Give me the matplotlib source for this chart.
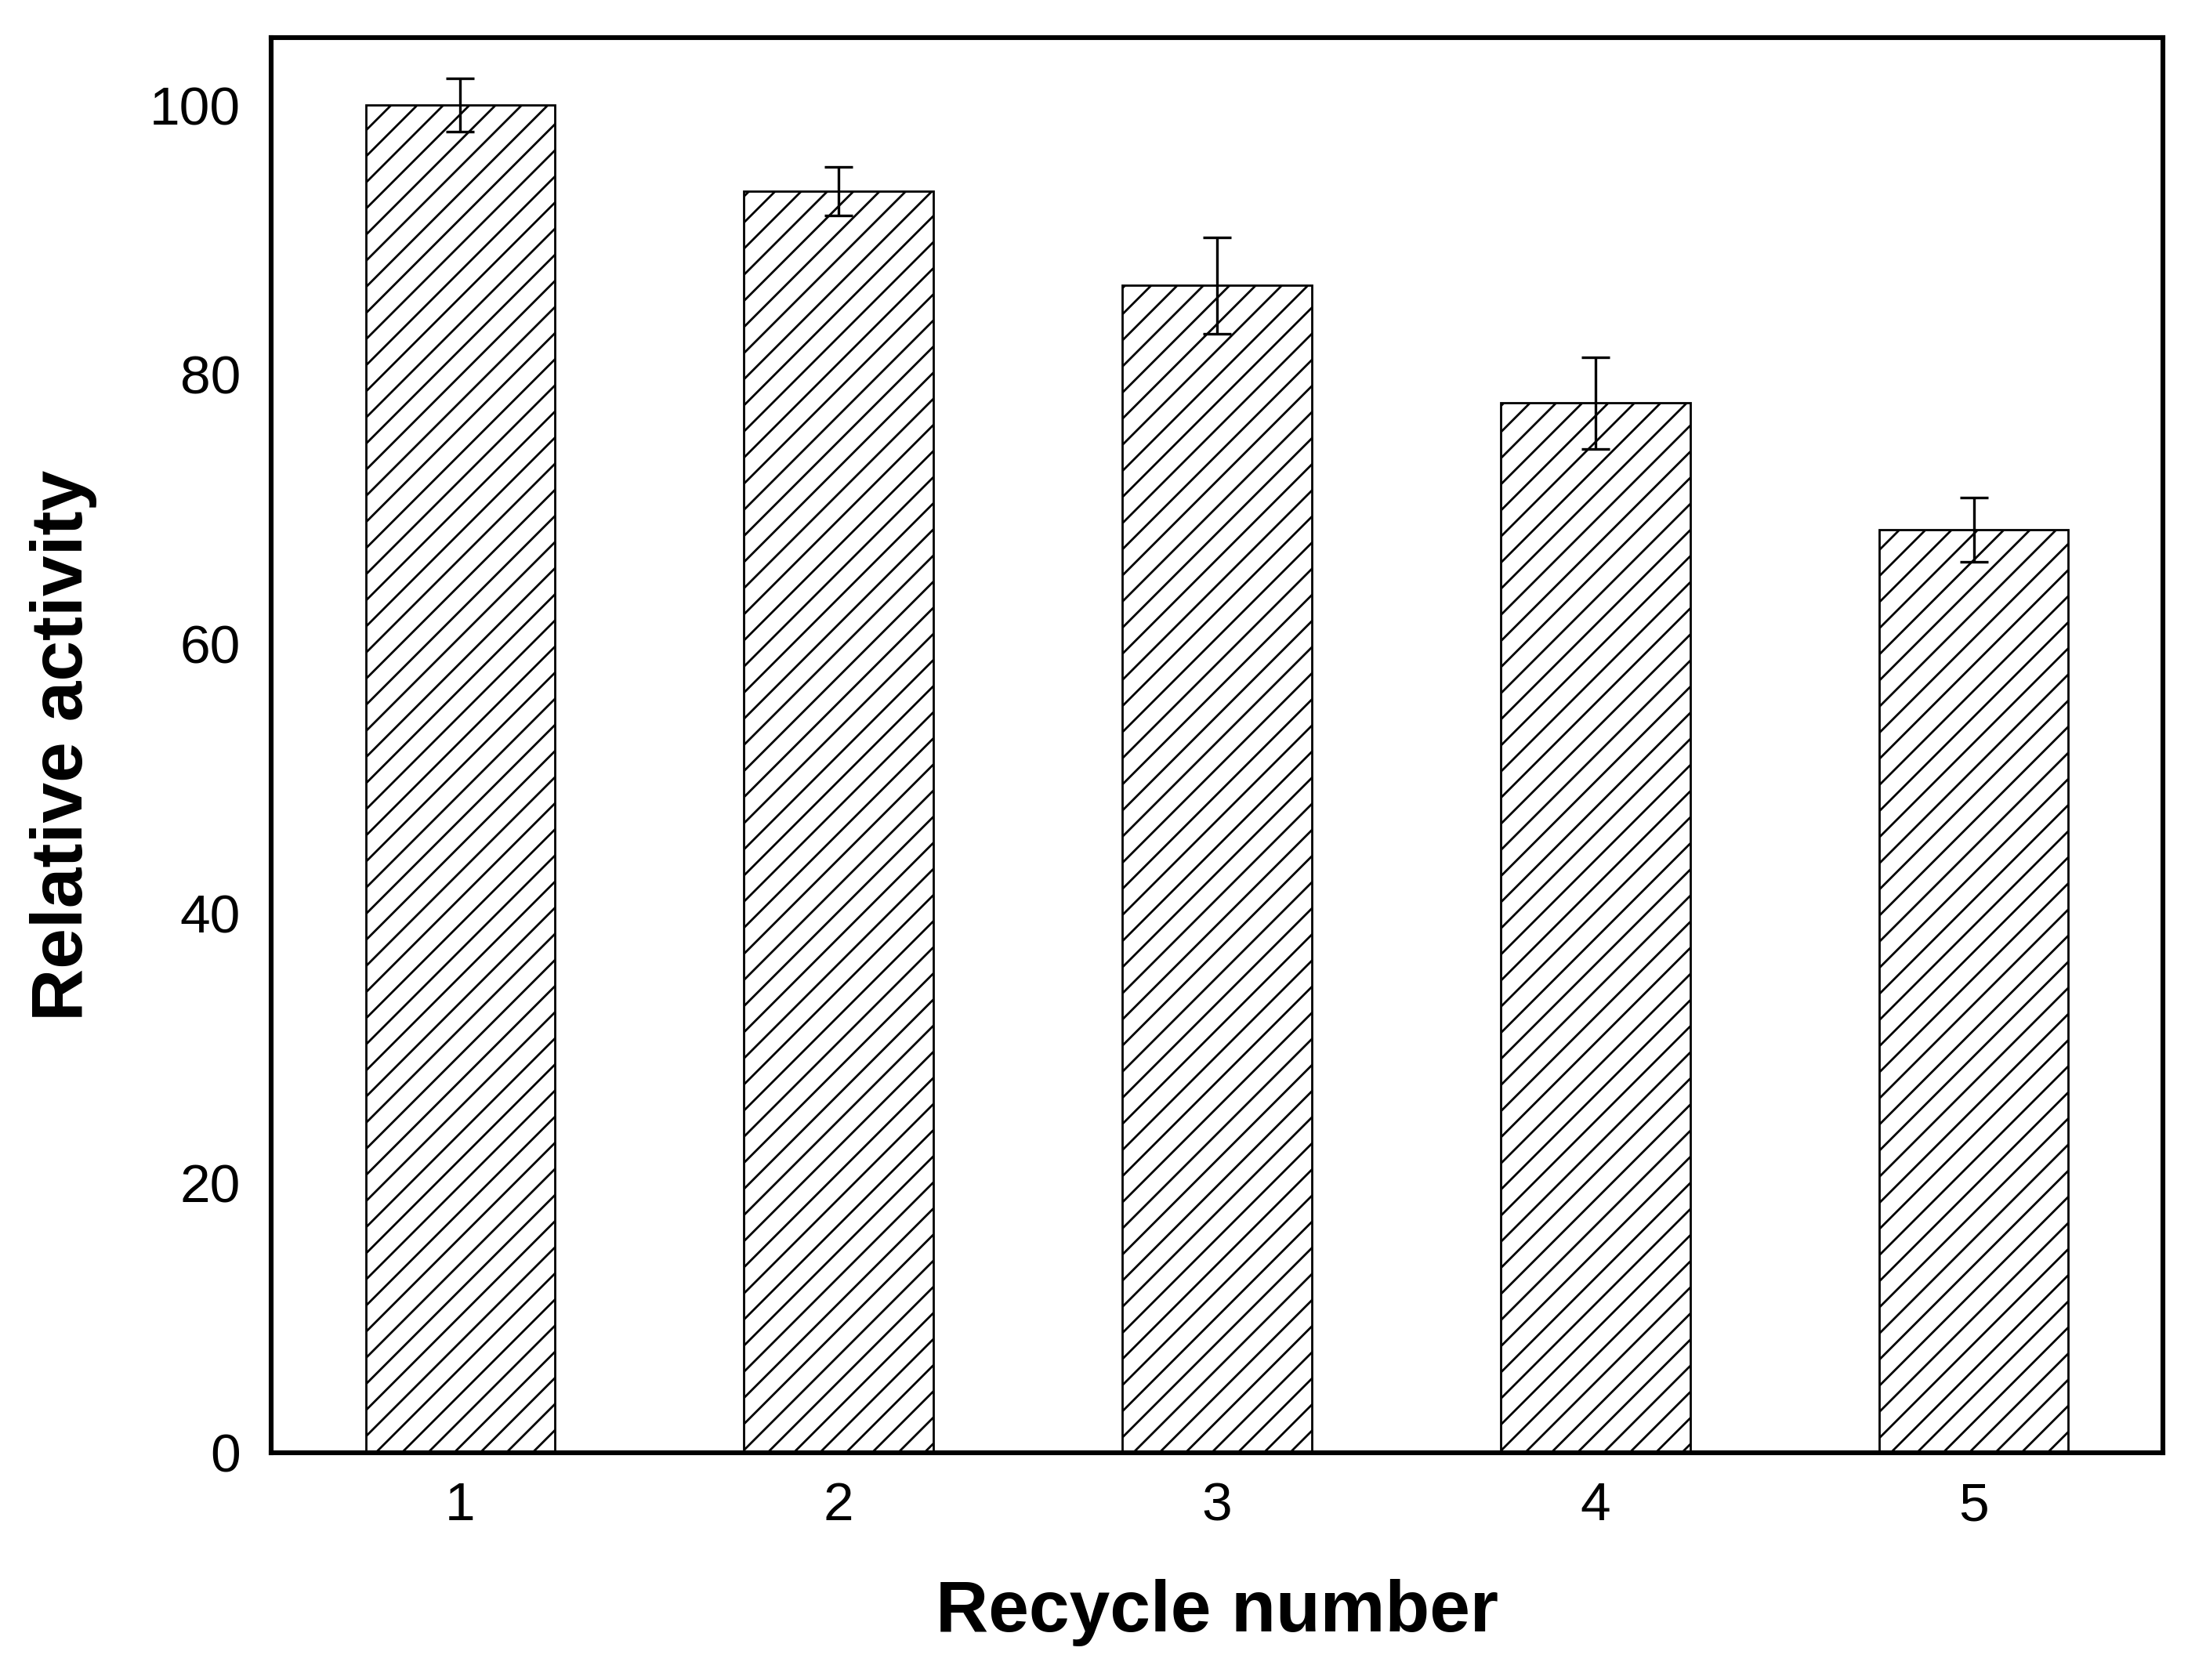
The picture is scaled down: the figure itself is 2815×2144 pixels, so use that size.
import matplotlib
matplotlib.use('Agg')
import matplotlib.pyplot as plt
from matplotlib import rcParams

# recycle runs and their relative activity (%)
cycles = [1, 2, 3, 4, 5]
activity = [100.0, 93.6, 86.6, 77.9, 68.5]
errors = [2.0, 1.8, 3.6, 3.4, 2.4]

yticks = [0, 20, 40, 60, 80, 100]


def main():
    rcParams['font.family'] = ['Liberation Sans', 'DejaVu Sans']
    rcParams['hatch.linewidth'] = 1.0
    rcParams['hatch.color'] = 'black'

    fig = plt.figure(figsize=(2815 / 200, 2144 / 200), dpi=200)
    ax = fig.add_axes([0.1229, 0.1353, 0.8576, 0.8423])

    ax.bar(cycles, activity, width=0.5, color='white', edgecolor='black',
           linewidth=1.0, hatch='//', zorder=2)
    ax.errorbar(cycles, activity, yerr=errors, fmt='none', ecolor='black',
                elinewidth=1.2, capsize=6.6, capthick=1.2, zorder=3)

    ax.set_xlim(0.5, 5.5)
    ax.set_ylim(0, 105)
    ax.set_xticks(cycles)
    ax.set_yticks(yticks)
    ax.tick_params(axis='both', length=0, labelsize=25)
    ax.tick_params(axis='y', pad=14)
    ax.tick_params(axis='x', pad=13)

    for s in ax.spines.values():
        s.set_linewidth(2.2)

    ax.set_xlabel('Recycle number', fontsize=33.5, fontweight='bold', labelpad=22)
    ax.set_ylabel('Relative activity', fontsize=33.5, fontweight='bold', labelpad=24)

    fig.savefig('out.png', dpi=200)


if __name__ == '__main__':
    main()
